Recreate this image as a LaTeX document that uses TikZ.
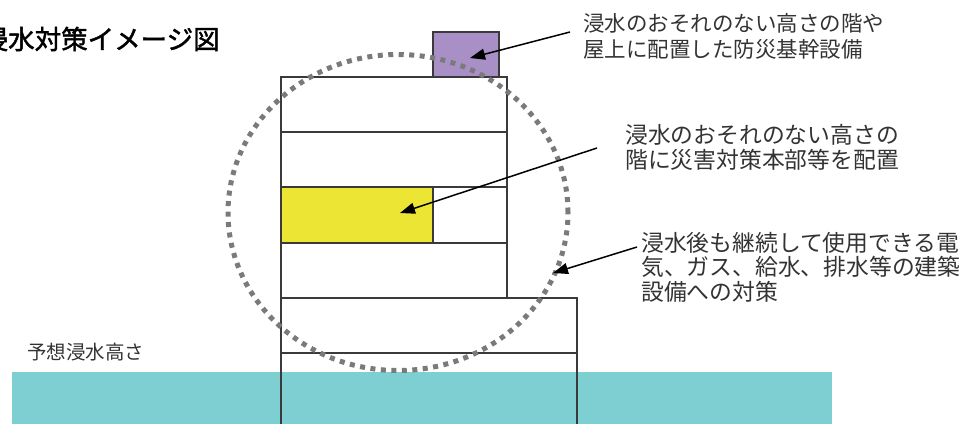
\documentclass[tikz,border=0pt]{standalone}
\usepackage{fontspec}
\newfontfamily\jp{Noto Sans CJK JP}
\newfontfamily\jpb{Noto Sans CJK JP}[FakeBold=1.6]
\usetikzlibrary{arrows.meta}
\definecolor{waterc}{HTML}{7DCFD2}
\definecolor{purplec}{HTML}{A88FC6}
\definecolor{yellowc}{HTML}{EDE534}
\definecolor{linec}{HTML}{3A3A3A}
\definecolor{dotc}{HTML}{7A7A7A}
\definecolor{textc}{HTML}{333333}
\begin{document}
\begin{tikzpicture}[x=1pt,y=-1pt,
  room/.style={draw=linec, line width=1.3pt, fill=white, inner sep=0pt, outer sep=0pt},
  outline/.style={draw=linec, line width=1.3pt},
  waterbox/.style={fill=waterc, inner sep=0pt, outer sep=0pt},
  label/.style={inner sep=0pt, anchor=north west, align=left, text=textc},
  pointer/.style={draw=black, line width=1.5pt, -{Triangle[length=15pt,width=11pt]}},
  dotring/.style={draw=dotc, line width=5pt, dash pattern=on 5pt off 5.5pt}
]
\useasboundingbox (0,0) rectangle (966,423);
% building
\node[room, minimum width=226pt, minimum height=55pt] (f4) at (394,104.5) {};
\node[room, minimum width=226pt, minimum height=55pt] (f3) at (394,159.5) {};
\node[room, minimum width=226pt, minimum height=56pt] (f2) at (394,215) {};
\node[room, minimum width=226pt, minimum height=55pt] (f1) at (394,270.5) {};
\node[room, fill=yellowc, minimum width=152pt, minimum height=56pt] (hq) at (357,215) {};
\node[room, fill=purplec, minimum width=66pt, minimum height=45pt] (eq) at (466,54.5) {};
\node[room, minimum width=296pt, minimum height=55pt] (g2) at (429,325.5) {};
\node[room, minimum width=296pt, minimum height=72pt] (g1) at (429,389) {};
% water
\node[waterbox, minimum width=820pt, minimum height=52pt] (water) at (422,398) {};
\draw[outline] (g1.north west) rectangle (g1.south east);
% dotted ring
\draw[dotring] (398,212.5) ellipse [x radius=170pt, y radius=158pt];
% texts
\node[inner sep=0pt, anchor=west, text=black, font=\jpb\fontsize{26.5}{30}\selectfont] (title) at (-18.5,39) {浸水対策イメージ図};
\node[label, font=\jp\fontsize{21.5}{26}\selectfont] (t1) at (583,13) {浸水のおそれのない高さの階や\\屋上に配置した防災基幹設備};
\node[label, font=\jp\fontsize{22.8}{25}\selectfont] (t2) at (625,124) {浸水のおそれのない高さの\\階に災害対策本部等を配置};
\node[label, font=\jp\fontsize{22.8}{24.5}\selectfont] (t3) at (641,232) {浸水後も継続して使用できる電\\気、ガス、給水、排水等の建築\\設備への対策};
\node[inner sep=0pt, anchor=west, text=textc, font=\jp\fontsize{19.5}{22}\selectfont] (wl) at (27,352) {予想浸水高さ};
% arrows
\coordinate (a1s) at (570,32);
\coordinate (a1e) at (470,58);
\coordinate (a2s) at (597,148);
\coordinate (a2e) at (400,213);
\coordinate (a3s) at (637,247);
\coordinate (a3e) at (553,273);
\draw[pointer] (a1s) -- (a1e);
\draw[pointer] (a2s) -- (a2e);
\draw[pointer] (a3s) -- (a3e);
\end{tikzpicture}
\end{document}
